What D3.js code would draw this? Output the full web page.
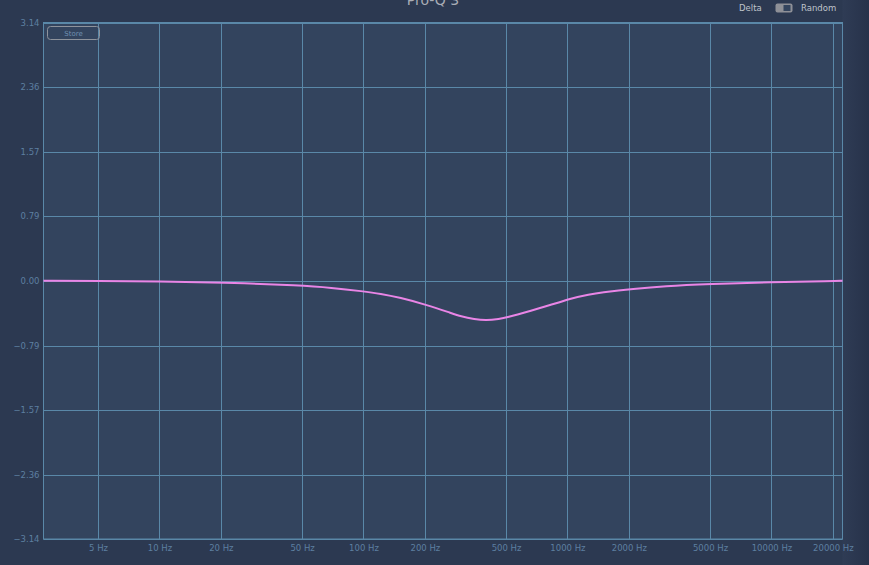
<!DOCTYPE html>
<html><head><meta charset="utf-8">
<script src="https://cdn.jsdelivr.net/npm/d3@7"></script>
<style>
html,body{margin:0;padding:0;background:#2c3951;overflow:hidden;}
svg{display:block;}
</style></head>
<body>
<svg id="chart" width="869" height="565"></svg>
<script>
// Data
const freqTicks = [5, 10, 20, 50, 100, 200, 500, 1000, 2000, 5000, 10000, 20000];
const freqTickLabels = ["5 Hz","10 Hz","20 Hz","50 Hz","100 Hz","200 Hz","500 Hz","1000 Hz","2000 Hz","5000 Hz","10000 Hz","20000 Hz"];
const phaseTicks = [3.14, 2.36, 1.57, 0.79, 0, -0.79, -1.57, -2.36, -3.14];
const phaseTickLabels = ["3.14","2.36","1.57","0.79","0.00","\u22120.79","\u22121.57","\u22122.36","\u22123.14"];
const curveFreq  = [2.7, 5, 10, 20, 50, 69, 100, 121, 151, 200, 266, 300, 350, 400, 465, 500, 654, 917, 1000, 1286, 1500, 1805, 2000, 3000, 5000, 10000, 20000, 22300];
const curvePhase = [0.00, -0.001, -0.007, -0.02, -0.056, -0.084, -0.129, -0.157, -0.205, -0.287, -0.388, -0.433, -0.468, -0.484, -0.463, -0.449, -0.368, -0.263, -0.226, -0.165, -0.141, -0.117, -0.104, -0.064, -0.04, -0.016, -0.004, 0.001];

const svg = d3.select("#chart");
const W = 869, H = 565;
const m = {left: 43.5, right: 842.5, top: 22.5, bottom: 539};

const x = d3.scaleLog().domain([2.7, 22300]).range([m.left, m.right]);
const y = d3.scaleLinear().domain([-3.14, 3.14]).range([m.bottom, m.top]);

// right-side darker gradient
const defs = svg.append("defs");
const g1 = defs.append("linearGradient").attr("id","rg").attr("x1","0").attr("x2","1");
g1.append("stop").attr("offset","0").attr("stop-color","#2f3c55");
g1.append("stop").attr("offset","1").attr("stop-color","#27324a");
svg.append("rect").attr("x",0).attr("y",0).attr("width",W).attr("height",H).attr("fill","#2c3951");
svg.append("rect").attr("x",m.right).attr("y",0).attr("width",W-m.right).attr("height",H).attr("fill","url(#rg)");

// plot area
svg.append("rect").attr("x",m.left).attr("y",m.top).attr("width",m.right-m.left).attr("height",m.bottom-m.top)
  .attr("fill","#33445e");

const gridColor = "#5a88a8";
// vertical grid
svg.append("g").selectAll("line").data(freqTicks).join("line")
  .attr("x1",d=>Math.round(x(d))+0.5).attr("x2",d=>Math.round(x(d))+0.5)
  .attr("y1",m.top).attr("y2",m.bottom)
  .attr("stroke",gridColor).attr("stroke-width",1);
// horizontal grid
svg.append("g").selectAll("line").data(phaseTicks).join("line")
  .attr("x1",m.left).attr("x2",m.right)
  .attr("y1",d=>Math.round(y(d))+0.5).attr("y2",d=>Math.round(y(d))+0.5)
  .attr("stroke",gridColor).attr("stroke-width",1);
// border
svg.append("rect").attr("x",m.left).attr("y",m.top).attr("width",m.right-m.left).attr("height",m.bottom-m.top)
  .attr("fill","none").attr("stroke",gridColor).attr("stroke-width",1);

// axis labels
const labelColor = "#5d7fa0";
const yAxis = d3.axisLeft(y).tickValues(phaseTicks).tickSize(0).tickPadding(4)
  .tickFormat((d,i)=>phaseTickLabels[i]);
const ya = svg.append("g").attr("transform",`translate(${m.left},0)`).call(yAxis);
ya.select(".domain").remove();
ya.selectAll("text").attr("fill",labelColor).attr("font-family","DejaVu Sans, sans-serif").attr("font-size",8.5);

const xAxis = d3.axisBottom(x).tickValues(freqTicks).tickSize(0).tickPadding(6)
  .tickFormat((d,i)=>freqTickLabels[i]);
const xa = svg.append("g").attr("transform",`translate(0,${m.bottom})`).call(xAxis);
xa.select(".domain").remove();
xa.selectAll("text").attr("fill",labelColor).attr("font-family","DejaVu Sans, sans-serif").attr("font-size",8.5);

// curve
const line = d3.line().x(d=>x(d[0])).y(d=>y(d[1])).curve(d3.curveBasis);
svg.append("path").datum(curveFreq.map((f,i)=>[f,curvePhase[i]]))
  .attr("d",line).attr("fill","none").attr("stroke","#e985e6").attr("stroke-width",2);

// Store button
svg.append("rect").attr("x",47.5).attr("y",26.5).attr("width",52).attr("height",13).attr("rx",3)
  .attr("fill","none").attr("stroke","#8e939c").attr("stroke-width",1);
svg.append("text").attr("x",73.5).attr("y",36).attr("text-anchor","middle")
  .attr("fill","#6f8fb0").attr("font-family","DejaVu Sans, sans-serif").attr("font-size",7).text("Store");

// title (clipped at top, as in the reference)
svg.append("text").attr("x",433).attr("y",5).attr("text-anchor","middle")
  .attr("fill","#a9adb6").attr("font-family","DejaVu Sans, sans-serif").attr("font-size",14).text("Pro-Q 3");

// Delta / Random toggle
svg.append("text").attr("x",739).attr("y",11).attr("fill","#bfc3ca")
  .attr("font-family","DejaVu Sans, sans-serif").attr("font-size",8.5).text("Delta");
svg.append("rect").attr("x",775.5).attr("y",3.5).attr("width",17).attr("height",9).attr("rx",2)
  .attr("fill","#8e9097");
svg.append("rect").attr("x",783.5).attr("y",5).attr("width",7).attr("height",6)
  .attr("fill","#33445e");
svg.append("text").attr("x",801).attr("y",11).attr("fill","#bfc3ca")
  .attr("font-family","DejaVu Sans, sans-serif").attr("font-size",8.5).text("Random");
</script>
</body></html>
